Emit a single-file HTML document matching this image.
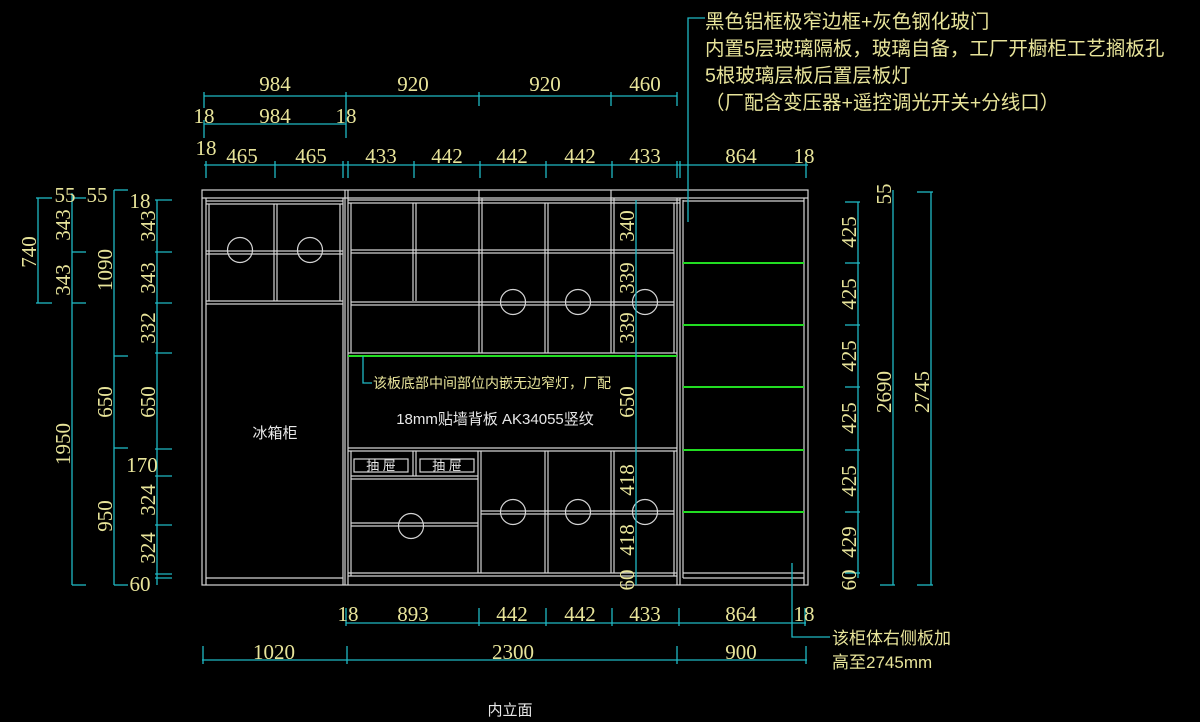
<!DOCTYPE html>
<html><head><meta charset="utf-8"><style>
html,body{margin:0;padding:0;background:#000;}
svg{display:block}
.n{font-family:"Liberation Serif",serif;font-size:21px;fill:#e8e49a;}
.c{font-family:"Liberation Sans","Noto Sans CJK SC",sans-serif;font-size:16px;fill:#e8e49a;}
.w{font-family:"Liberation Sans","Noto Sans CJK SC",sans-serif;font-size:15px;fill:#e8e8e8;}
</style></head><body>
<svg width="1200" height="722" viewBox="0 0 1200 722" xmlns="http://www.w3.org/2000/svg">
<rect width="1200" height="722" fill="#000"/>
<g stroke="#d4d4d4" stroke-width="1.2" fill="none">
<rect x="202" y="190" width="606" height="395"/>
<line x1="202" y1="198" x2="808" y2="198"/>
<line x1="206" y1="198" x2="206" y2="585"/>
<line x1="804" y1="198" x2="804" y2="585"/>
<line x1="345" y1="190" x2="345" y2="585"/><line x1="348" y1="190" x2="348" y2="585"/>
<line x1="343" y1="198" x2="343" y2="585"/>
<line x1="206" y1="201" x2="343" y2="201"/><line x1="206" y1="204" x2="343" y2="204"/>
<line x1="206" y1="251" x2="343" y2="251"/><line x1="206" y1="254" x2="343" y2="254"/>
<line x1="206" y1="301" x2="343" y2="301"/><line x1="206" y1="304" x2="343" y2="304"/>
<line x1="274" y1="204" x2="274" y2="301"/><line x1="277" y1="204" x2="277" y2="301"/>
<line x1="209" y1="204" x2="209" y2="301"/><line x1="340" y1="204" x2="340" y2="301"/>
<circle cx="240" cy="250" r="12.5"/><circle cx="310" cy="250" r="12.5"/>
<line x1="348" y1="200" x2="680" y2="200"/><line x1="348" y1="203" x2="680" y2="203"/>
<line x1="479" y1="190" x2="479" y2="353"/><line x1="482" y1="198" x2="482" y2="353"/>
<line x1="611" y1="190" x2="611" y2="353"/><line x1="614" y1="198" x2="614" y2="353"/>
<line x1="677" y1="198" x2="677" y2="585"/><line x1="680" y1="198" x2="680" y2="585"/>
<line x1="351" y1="203" x2="351" y2="353"/>
<line x1="413" y1="203" x2="413" y2="301"/><line x1="416" y1="203" x2="416" y2="301"/>
<line x1="545" y1="203" x2="545" y2="353"/><line x1="548" y1="203" x2="548" y2="353"/>
<line x1="674" y1="203" x2="674" y2="353"/>
<line x1="351" y1="250" x2="674" y2="250"/><line x1="351" y1="253" x2="674" y2="253"/>
<line x1="351" y1="302" x2="674" y2="302"/><line x1="351" y1="305" x2="674" y2="305"/>
<line x1="348" y1="353" x2="677" y2="353"/>
<line x1="348" y1="448" x2="677" y2="448"/><line x1="348" y1="451" x2="677" y2="451"/>
<circle cx="513" cy="302" r="12.5"/><circle cx="578" cy="302" r="12.5"/><circle cx="645" cy="302" r="12.5"/>
<line x1="351" y1="451" x2="351" y2="576"/>
<line x1="413" y1="451" x2="413" y2="476"/><line x1="416" y1="451" x2="416" y2="476"/>
<rect x="354" y="459" width="54" height="13"/><rect x="420" y="459" width="54" height="13"/>
<line x1="351" y1="476" x2="478" y2="476"/><line x1="351" y1="479" x2="478" y2="479"/>
<line x1="478" y1="451" x2="478" y2="573"/><line x1="481" y1="451" x2="481" y2="573"/>
<line x1="545" y1="451" x2="545" y2="573"/><line x1="548" y1="451" x2="548" y2="573"/>
<line x1="611" y1="451" x2="611" y2="573"/><line x1="614" y1="451" x2="614" y2="573"/>
<line x1="674" y1="451" x2="674" y2="576"/>
<line x1="351" y1="523" x2="478" y2="523"/><line x1="351" y1="526" x2="478" y2="526"/>
<line x1="481" y1="511" x2="674" y2="511"/><line x1="481" y1="514" x2="674" y2="514"/>
<line x1="348" y1="573" x2="677" y2="573"/><line x1="348" y1="576" x2="677" y2="576"/>
<circle cx="411" cy="526" r="12.5"/><circle cx="513" cy="512" r="12.5"/><circle cx="578" cy="512" r="12.5"/><circle cx="645" cy="512" r="12.5"/>
<line x1="683" y1="200" x2="683" y2="578"/>
<line x1="683" y1="201" x2="804" y2="201"/>
<line x1="683" y1="573" x2="804" y2="573"/><line x1="683" y1="578" x2="804" y2="578"/>
<line x1="206" y1="578" x2="343" y2="578"/>
</g>
<text class="w" x="381" y="470" text-anchor="middle" style="font-size:13px">抽 屉</text>
<text class="w" x="447" y="470" text-anchor="middle" style="font-size:13px">抽 屉</text>
<g stroke="#22dd22" stroke-width="2">
<line x1="348" y1="356" x2="677" y2="356"/>
<line x1="683" y1="263" x2="804" y2="263"/><line x1="683" y1="325" x2="804" y2="325"/>
<line x1="683" y1="387" x2="804" y2="387"/><line x1="683" y1="450" x2="804" y2="450"/>
<line x1="683" y1="512" x2="804" y2="512"/>
</g>
<g stroke="#1fb8c4" stroke-width="1.3" fill="none">
<line x1="204" y1="96" x2="677" y2="96"/>
<line x1="204" y1="92" x2="204" y2="108"/><line x1="346" y1="92" x2="346" y2="138"/><line x1="479" y1="92" x2="479" y2="106"/><line x1="611" y1="92" x2="611" y2="106"/><line x1="677" y1="92" x2="677" y2="106"/>
<line x1="204" y1="124" x2="346" y2="124"/><line x1="204" y1="120" x2="204" y2="138"/>
<line x1="204" y1="165" x2="808" y2="165"/>
<line x1="206" y1="161" x2="206" y2="178"/><line x1="275" y1="161" x2="275" y2="178"/><line x1="343" y1="161" x2="343" y2="178"/><line x1="348" y1="161" x2="348" y2="178"/><line x1="414" y1="161" x2="414" y2="178"/><line x1="480" y1="161" x2="480" y2="178"/><line x1="546" y1="161" x2="546" y2="178"/><line x1="612" y1="161" x2="612" y2="178"/><line x1="677" y1="161" x2="677" y2="178"/><line x1="680" y1="161" x2="680" y2="178"/><line x1="806" y1="161" x2="806" y2="178"/>
<line x1="346" y1="623" x2="806" y2="623"/>
<line x1="346" y1="608" x2="346" y2="626"/><line x1="479" y1="608" x2="479" y2="626"/><line x1="546" y1="608" x2="546" y2="626"/><line x1="612" y1="608" x2="612" y2="626"/><line x1="679" y1="608" x2="679" y2="626"/><line x1="805" y1="608" x2="805" y2="626"/>
<line x1="202" y1="660" x2="807" y2="660"/>
<line x1="203" y1="646" x2="203" y2="664"/><line x1="347" y1="646" x2="347" y2="664"/><line x1="677" y1="646" x2="677" y2="664"/><line x1="806" y1="646" x2="806" y2="664"/>
<line x1="38" y1="198" x2="38" y2="303"/><line x1="36" y1="198" x2="52" y2="198"/><line x1="36" y1="303" x2="52" y2="303"/>
<line x1="72" y1="193" x2="72" y2="585"/><line x1="72" y1="198" x2="86" y2="198"/><line x1="72" y1="252" x2="86" y2="252"/><line x1="72" y1="303" x2="86" y2="303"/><line x1="72" y1="585" x2="86" y2="585"/>
<line x1="114" y1="190" x2="114" y2="356"/><line x1="114" y1="356" x2="114" y2="585"/>
<line x1="114" y1="190" x2="128" y2="190"/><line x1="114" y1="356" x2="128" y2="356"/><line x1="114" y1="448" x2="128" y2="448"/><line x1="114" y1="585" x2="128" y2="585"/>
<line x1="157" y1="200" x2="157" y2="585"/>
<line x1="155" y1="200" x2="172" y2="200"/><line x1="155" y1="252" x2="172" y2="252"/><line x1="155" y1="303" x2="172" y2="303"/><line x1="155" y1="353" x2="172" y2="353"/><line x1="155" y1="449" x2="172" y2="449"/><line x1="155" y1="476" x2="172" y2="476"/><line x1="155" y1="525" x2="172" y2="525"/><line x1="155" y1="574" x2="172" y2="574"/><line x1="155" y1="578" x2="172" y2="578"/>
<line x1="636" y1="200" x2="636" y2="585"/>
<line x1="858" y1="202" x2="858" y2="578"/>
<line x1="845" y1="263" x2="860" y2="263"/><line x1="845" y1="325" x2="860" y2="325"/><line x1="845" y1="387" x2="860" y2="387"/><line x1="845" y1="450" x2="860" y2="450"/><line x1="845" y1="512" x2="860" y2="512"/><line x1="845" y1="573" x2="860" y2="573"/><line x1="845" y1="202" x2="860" y2="202"/>
<line x1="893" y1="190" x2="893" y2="585"/><line x1="880" y1="585" x2="895" y2="585"/>
<line x1="931" y1="192" x2="931" y2="585"/><line x1="917" y1="192" x2="933" y2="192"/><line x1="917" y1="585" x2="933" y2="585"/>
<polyline points="705,18 688,18 688,222"/>
<polyline points="792,563 792,637 830,637"/>
<polyline points="363,356 363,383 372,383"/>
</g>
<g class="n" text-anchor="middle">
<text x="275" y="91">984</text><text x="413" y="91">920</text><text x="545" y="91">920</text><text x="645" y="91">460</text>
<text x="204" y="123">18</text><text x="275" y="123">984</text><text x="346" y="123">18</text>
<text x="206" y="155">18</text>
<text x="242" y="163">465</text><text x="311" y="163">465</text><text x="381" y="163">433</text><text x="447" y="163">442</text><text x="512" y="163">442</text><text x="580" y="163">442</text><text x="645" y="163">433</text><text x="741" y="163">864</text><text x="804" y="163">18</text>
<text x="348" y="621">18</text><text x="413" y="621">893</text><text x="512" y="621">442</text><text x="580" y="621">442</text><text x="645" y="621">433</text><text x="741" y="621">864</text><text x="804" y="621">18</text>
<text x="274" y="659">1020</text><text x="513" y="659">2300</text><text x="741" y="659">900</text>
<text x="65" y="202">55</text><text x="97" y="202">55</text><text x="140" y="208">18</text>
<text x="142" y="472">170</text><text x="140" y="591">60</text>
</g>
<g class="n" text-anchor="middle">
<text transform="translate(36,252) rotate(-90)">740</text>
<text transform="translate(70,225) rotate(-90)">343</text>
<text transform="translate(70,280) rotate(-90)">343</text>
<text transform="translate(70,444) rotate(-90)">1950</text>
<text transform="translate(112,270) rotate(-90)">1090</text>
<text transform="translate(112,402) rotate(-90)">650</text>
<text transform="translate(112,516) rotate(-90)">950</text>
<text transform="translate(155,226) rotate(-90)">343</text>
<text transform="translate(155,278) rotate(-90)">343</text>
<text transform="translate(155,328) rotate(-90)">332</text>
<text transform="translate(155,402) rotate(-90)">650</text>
<text transform="translate(155,500) rotate(-90)">324</text>
<text transform="translate(155,548) rotate(-90)">324</text>
<text transform="translate(634,226) rotate(-90)">340</text>
<text transform="translate(634,278) rotate(-90)">339</text>
<text transform="translate(634,328) rotate(-90)">339</text>
<text transform="translate(634,402) rotate(-90)">650</text>
<text transform="translate(634,480) rotate(-90)">418</text>
<text transform="translate(634,540) rotate(-90)">418</text>
<text transform="translate(634,580) rotate(-90)">60</text>
<text transform="translate(856,232) rotate(-90)">425</text>
<text transform="translate(856,294) rotate(-90)">425</text>
<text transform="translate(856,356) rotate(-90)">425</text>
<text transform="translate(856,418) rotate(-90)">425</text>
<text transform="translate(856,481) rotate(-90)">425</text>
<text transform="translate(856,542) rotate(-90)">429</text>
<text transform="translate(856,580) rotate(-90)">60</text>
<text transform="translate(891,194) rotate(-90)">55</text>
<text transform="translate(891,392) rotate(-90)">2690</text>
<text transform="translate(929,392) rotate(-90)">2745</text>
</g>
<g class="c">
<text x="705" y="28" style="font-size:19.5px">黑色铝框极窄边框+灰色钢化玻门</text>
<text x="705" y="55" style="font-size:19.5px">内置5层玻璃隔板，玻璃自备，工厂开橱柜工艺搁板孔</text>
<text x="705" y="82" style="font-size:19.5px">5根玻璃层板后置层板灯</text>
<text x="705" y="109" style="font-size:19.5px">（厂配含变压器+遥控调光开关+分线口）</text>
<text x="373" y="388" style="font-size:14px">该板底部中间部位内嵌无边窄灯，厂配</text>
<text x="832" y="644" style="font-size:17px">该柜体右侧板加</text>
<text x="832" y="668" style="font-size:17px">高至2745mm</text>
</g>
<text class="w" x="495" y="424" text-anchor="middle">18mm贴墙背板 AK34055竖纹</text>
<text class="w" x="275" y="438" text-anchor="middle">冰箱柜</text>
<text class="w" x="510" y="715" text-anchor="middle">内立面</text>
</svg>
</body></html>
